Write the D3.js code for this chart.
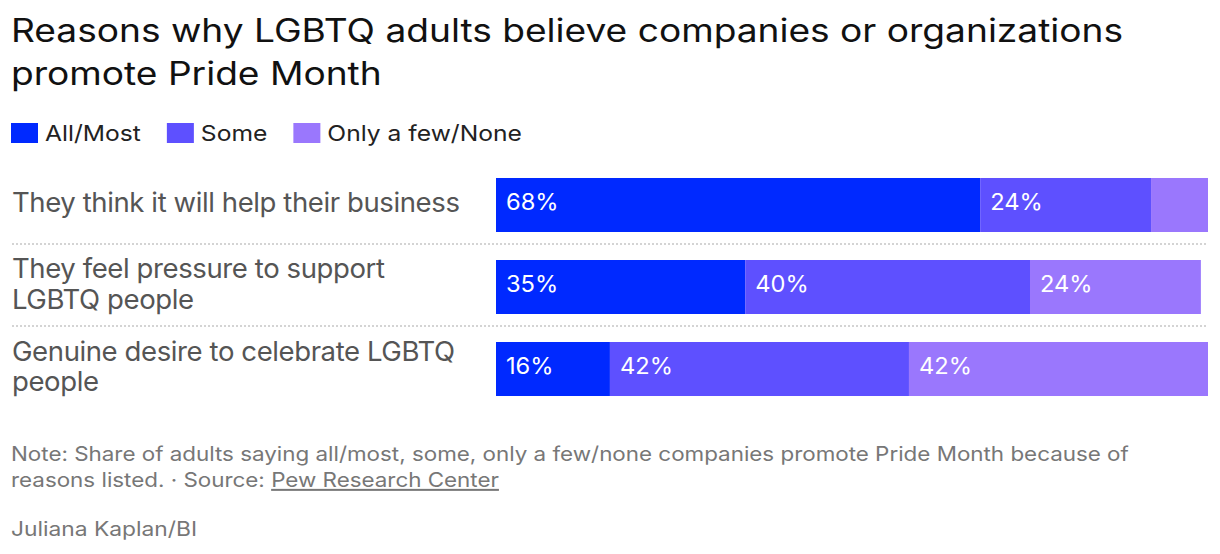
<!DOCTYPE html>
<html>
<head>
<meta charset="utf-8">
<script src="https://cdn.jsdelivr.net/npm/d3@7"></script>
<style>
  body { margin: 0; background: #fff; }
  svg { display: block; font-family: Inter, "Noto Sans", sans-serif; }
</style>
</head>
<body>
<div id="chart"></div>
<script>
const categories = [
  ['They think it will help their business'],
  ['They feel pressure to support', 'LGBTQ people'],
  ['Genuine desire to celebrate LGBTQ', 'people']
];
const seriesNames = ['All/Most', 'Some', 'Only a few/None'];
const allMost = [68, 35, 16];
const some = [24, 40, 42];
const fewNone = [8, 24, 42];
const valueLabels = [['68%', '24%', ''], ['35%', '40%', '24%'], ['16%', '42%', '42%']];
const colors = ['#0029ff', '#5e50ff', '#9a77fd'];

const width = 1220, height = 554;
const svg = d3.select('#chart').append('svg').attr('width', width).attr('height', height);

// the original face is wider than Inter, so stretch text sideways
const stretch = (sel, x0, k) => sel.attr('transform', 'translate(' + x0 + ',0) scale(' + k + ',1) translate(' + (-x0) + ',0)');

// title
const title = svg.append('text').style('font-size', '32px').attr('fill', '#111');
title.append('tspan').attr('x', 11).attr('y', 42).text('Reasons why LGBTQ adults believe companies or organizations');
title.append('tspan').attr('x', 11).attr('y', 85).text('promote Pride Month');
stretch(title, 11, 1.16);

// legend
const legend = svg.append('g').attr('transform', 'translate(11,123)');
const lk = 1.12;
let lx = 0;
seriesNames.forEach((name, i) => {
  const g = legend.append('g').attr('transform', 'translate(' + lx + ',0)');
  g.append('rect').attr('width', 27).attr('height', 20).attr('fill', colors[i]);
  const t = g.append('text').attr('x', 34).attr('y', 18).style('font-size', '22px')
    .attr('fill', '#222').text(name);
  stretch(t, 34, lk);
  lx += 34 + t.node().getComputedTextLength() * lk + 26;
});

// bars
const rows = categories.map((c, i) => ({ label: c, values: [allMost[i], some[i], fewNone[i]], text: valueLabels[i] }));
const x = d3.scaleLinear().domain([0, 100]).range([496, 1208]);
const y = d3.scaleBand().domain(d3.range(categories.length)).range([164, 410]).paddingInner(0.3415).paddingOuter(0.1707);

const sep = svg.append('g');
d3.range(categories.length - 1).forEach(i => {
  const yy = y(i) + y.bandwidth() + (y.step() - y.bandwidth()) / 2 - 2;
  sep.append('line').attr('x1', 12).attr('x2', 1208).attr('y1', yy).attr('y2', yy)
    .attr('stroke', '#d4d4d4').attr('stroke-width', 2).attr('stroke-dasharray', '2,2');
});

const row = svg.selectAll('g.row').data(rows).enter().append('g').attr('class', 'row');

row.each(function (d, i) {
  const g = d3.select(this);
  const stack = d3.cumsum(d.values);
  d.values.forEach((v, j) => {
    const x0 = j === 0 ? 0 : stack[j - 1];
    g.append('rect').attr('x', x(x0)).attr('y', y(i)).attr('width', x(x0 + v) - x(x0))
      .attr('height', y.bandwidth()).attr('fill', colors[j]);
    if (d.text[j]) {
      const vt = g.append('text').attr('x', x(x0) + 10).attr('y', y(i) + y.bandwidth() / 2 + 5)
        .style('font-size', '23px').attr('fill', '#fff').text(d.text[j]);
      stretch(vt, x(x0) + 10, 1.03);
    }
  });
  const lh = 31;
  const cy = y(i) + y.bandwidth() / 2;
  const first = cy + 7 - (d.label.length - 1) * lh / 2;
  const t = g.append('text').style('font-size', '27px').style('letter-spacing', '-0.4px').attr('fill', '#555');
  d.label.forEach((line, k) => {
    t.append('tspan').attr('x', 12).attr('y', first + k * lh).text(line);
  });
  stretch(t, 12, 1.02);
});

// notes
const note = svg.append('text').style('font-size', '20px').attr('fill', '#777');
note.append('tspan').attr('x', 11).attr('y', 461)
  .text('Note: Share of adults saying all/most, some, only a few/none companies promote Pride Month because of');
const l2 = note.append('tspan').attr('x', 11).attr('y', 487);
l2.append('tspan').text('reasons listed. · Source: ');
l2.append('tspan').style('text-decoration', 'underline').text('Pew Research Center');
stretch(note, 11, 1.12);
const author = svg.append('text').attr('x', 11).attr('y', 536).style('font-size', '20px')
  .attr('fill', '#777').text('Juliana Kaplan/BI');
stretch(author, 11, 1.14);
</script>
</body>
</html>
